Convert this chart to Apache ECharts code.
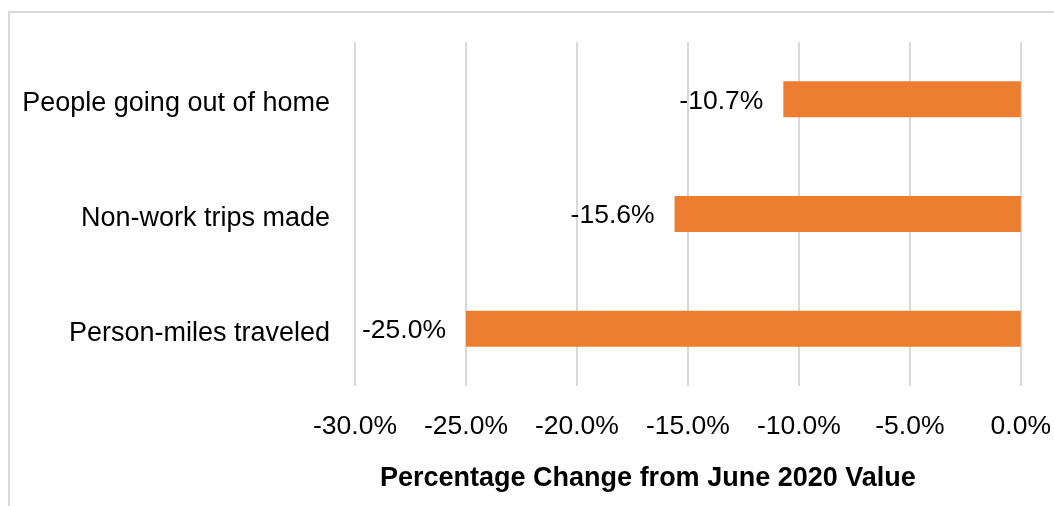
<!DOCTYPE html>
<html>
<head>
<meta charset="utf-8">
<script src="https://cdn.jsdelivr.net/npm/echarts@6/dist/echarts.min.js"></script>
<style>
  html, body { margin: 0; padding: 0; background: #fff; }
  #chart { width: 1054px; height: 506px; }
</style>
</head>
<body>
<div id="chart"></div>
<script>
// categories listed bottom-up (category axis starts at the bottom)
const categories = ['Person-miles traveled', 'Non-work trips made', 'People going out of home']
const changes = [-25.0, -15.6, -10.7]
const tickValues = [-30, -25, -20, -15, -10, -5, 0]

const font = "'Liberation Sans', Arial, sans-serif"
const myChart = echarts.init(document.getElementById('chart'))

const options = {
  animation: false,
  textStyle: { fontFamily: font },
  graphic: [
    {
      // chart area border, only top and left edges visible
      type: 'rect',
      shape: { x: 9, y: 12, width: 1200, height: 700 },
      style: { fill: 'none', stroke: '#d9d9d9', lineWidth: 2 },
      silent: true,
    },
  ],
  grid: {
    left: 355,
    right: 32,
    top: 42,
    bottom: 120,
  },
  xAxis: {
    type: 'value',
    min: tickValues[0],
    max: tickValues[tickValues.length - 1],
    interval: 5,
    axisLine: { show: false },
    axisTick: { show: false },
    splitLine: { lineStyle: { color: '#d9d9d9', width: 2 } },
    axisLabel: {
      color: '#000',
      fontSize: 26.5,
      fontFamily: font,
      margin: 27,
      formatter: (v) => v.toFixed(1) + '%',
    },
    name: 'Percentage Change from June 2020 Value',
    nameLocation: 'middle',
    nameGap: 79,
    nameTextStyle: {
      color: '#000',
      fontSize: 27,
      fontWeight: 'bold',
      fontFamily: font,
      // title sits left of the plot centre
      padding: [0, 80, 0, 0],
    },
  },
  yAxis: {
    type: 'category',
    data: categories,
    axisLine: { show: false },
    axisTick: { show: false },
    splitLine: { show: false },
    axisLabel: {
      color: '#000',
      fontSize: 27,
      fontFamily: font,
      margin: 25,
      formatter: (v) => '{c|' + v + '}',
      rich: {
        // nudge text a little below the band centre
        c: { fontSize: 27, fontFamily: font, color: '#000', padding: [9, 0, 0, 0] },
      },
    },
  },
  series: [
    {
      type: 'bar',
      data: changes,
      barWidth: 36,
      itemStyle: { color: '#ED7D31' },
      label: {
        show: true,
        position: 'left',
        distance: 20,
        offset: [0, 2],
        color: '#000',
        fontSize: 26.5,
        fontFamily: font,
        formatter: (p) => p.value.toFixed(1) + '%',
      },
    },
  ],
}
myChart.setOption(options)
</script>
</body>
</html>
